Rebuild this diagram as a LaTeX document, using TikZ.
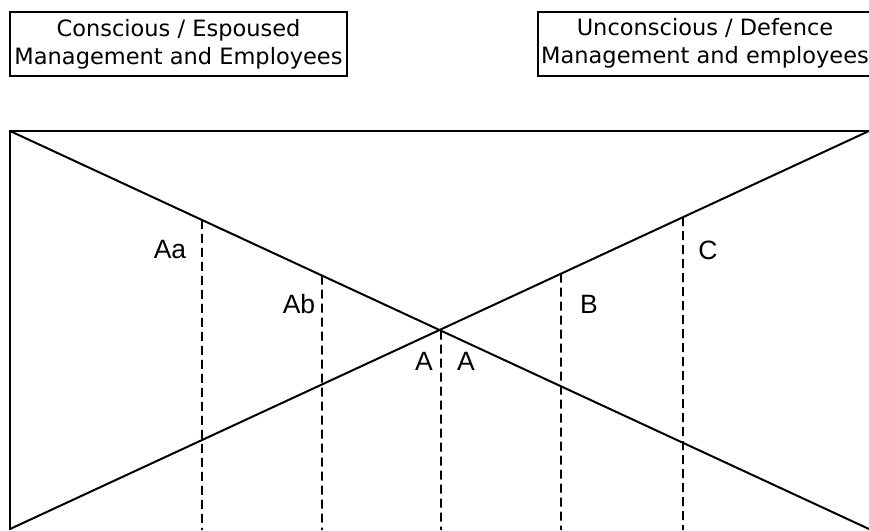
\documentclass[tikz,border=0pt]{standalone}
\usepackage{fontspec}
\setmainfont{Liberation Sans}
\newfontfamily\boxfont{DejaVu Sans}
\usetikzlibrary{calc}
\begin{document}
\begin{tikzpicture}[x=1pt,y=-1pt,
  solidline/.style={line width=2pt},
  dashline/.style={line width=1.7pt, dash pattern=on 9pt off 5pt},
  headbox/.style={draw, line width=1.6pt, align=center, inner sep=0pt,
     font=\boxfont\fontsize{22.5}{28}\selectfont},
  headtext/.style={align=center, inner sep=0pt,
     font=\boxfont\fontsize{22.5}{28}\selectfont},
  lbl/.style={font=\fontsize{26.5}{30}\selectfont, inner sep=0pt}]
\useasboundingbox (0,0) rectangle (869,530);
% header boxes
\node[headbox, minimum width=337pt, minimum height=64pt] (h1) at (178.5,44) {Conscious / Espoused\\Management and Employees};
\node[headbox, minimum width=360pt, minimum height=64pt, anchor=west] (h2) at (537,44) {};
\node[headtext, anchor=west] (h2t) at (541,44) {\begin{tabular}{@{}c@{}}Unconscious / Defence\\Management and employees\end{tabular}};
% frame corners
\coordinate (tl) at (10,131);
\coordinate (tr) at (869,131);
\coordinate (bl) at (10,530);
\coordinate (br) at (869,529);
\coordinate (blr) at (10,529);
\draw[solidline] (tr) -- (tl) -- (bl);
\draw[solidline] (tl) -- (br);
\draw[solidline] (blr) -- (tr);
% dashed verticals
\coordinate (d1) at ($(tl)!{(202-10)/859}!(br)$);
\coordinate (d2) at ($(tl)!{(322-10)/859}!(br)$);
\coordinate (d3) at ($(tl)!{(441-10)/859}!(br)$);
\coordinate (d4) at ($(blr)!{(561-10)/859}!(tr)$);
\coordinate (d5) at ($(blr)!{(683-10)/859}!(tr)$);
\coordinate (e1) at (202,530);
\coordinate (e2) at (322,530);
\coordinate (e3) at (441,530);
\coordinate (e4) at (561,530);
\coordinate (e5) at (683,530);
\draw[dashline] (d1) -- (e1);
\draw[dashline] (d2) -- (e2);
\draw[dashline] (d3) -- (e3);
\draw[dashline] (d4) -- (e4);
\draw[dashline] (d5) -- (e5);
% labels
\node[lbl] (laa) at (170,250) {Aa};
\node[lbl] (lab) at (299,304) {Ab};
\node[lbl] (la1) at (424,361) {A};
\node[lbl] (la2) at (466,361) {A};
\node[lbl] (lb) at (589,304) {B};
\node[lbl] (lc) at (708,250) {C};
\end{tikzpicture}
\end{document}
